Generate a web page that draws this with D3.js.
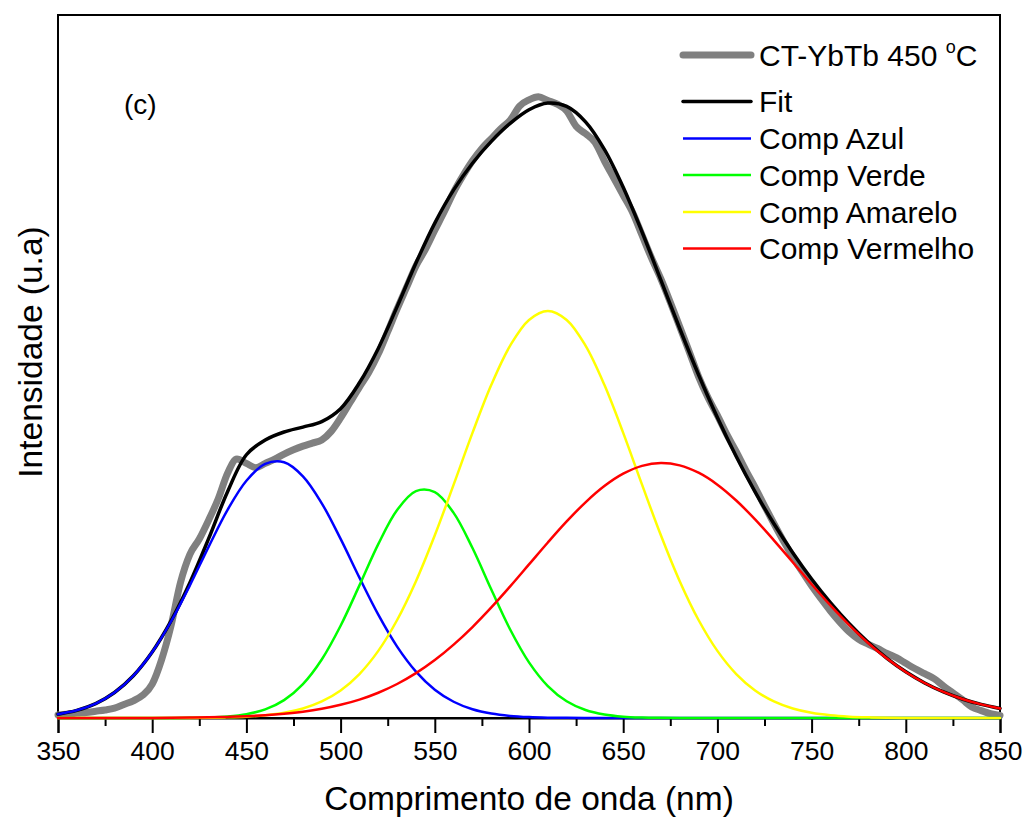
<!DOCTYPE html>
<html>
<head>
<meta charset="utf-8">
<script src="https://cdn.jsdelivr.net/npm/d3@7"></script>
<style>
  html, body { margin: 0; padding: 0; background: #fff; }
  svg { display: block; font-family: "Liberation Sans", Arial, sans-serif; }
</style>
</head>
<body>
<svg id="chart" width="1025" height="823"></svg>
<script>
// ---- Data (wavelength in nm, intensity in arbitrary units) ----
const xTicks = [350, 400, 450, 500, 550, 600, 650, 700, 750, 800, 850];

// measured spectrum, 350..850 nm step 5
const dataStart = 350, dataStep = 5;
const measured = [
  0.005,0.006,0.008,0.009,0.011,0.013,0.016,0.022,0.028,0.037,
  0.055,0.095,0.150,0.220,0.266,0.291,0.322,0.356,0.398,0.421,
  0.414,0.407,0.414,0.421,0.429,0.436,0.442,0.447,0.452,0.466,
  0.488,0.513,0.538,0.562,0.592,0.628,0.665,0.700,0.735,0.762,
  0.793,0.823,0.855,0.882,0.906,0.926,0.942,0.958,0.972,0.995,
  1.005,1.010,1.004,0.998,0.987,0.962,0.950,0.936,0.906,0.878,
  0.850,0.822,0.785,0.748,0.714,0.676,0.636,0.596,0.555,0.521,
  0.492,0.461,0.433,0.403,0.375,0.345,0.316,0.288,0.262,0.238,
  0.215,0.194,0.174,0.156,0.140,0.128,0.120,0.113,0.105,0.098,
  0.089,0.080,0.072,0.064,0.052,0.041,0.030,0.018,0.012,0.007,
  0.004
];

// fitted curves, 350..850 nm step 10
const fitStart = 350, fitStep = 10;
const fitTotal = [
  0.0062,0.0125,0.0234,0.0415,0.0688,0.1074,0.1580,0.2200,0.2920,0.3680,
  0.4280,0.4520,0.4650,0.4730,0.4820,0.5030,0.5450,0.6009,0.6688,0.7397,
  0.8047,0.8586,0.9020,0.9375,0.9667,0.9889,0.9998,0.9943,0.9692,0.9245,
  0.8630,0.7902,0.7120,0.6333,0.5581,0.4885,0.4251,0.3677,0.3158,0.2687,
  0.2259,0.1875,0.1532,0.1231,0.0971,0.0751,0.0570,0.0424,0.0309,0.0221,
  0.0155
];
const compAzul = [
  0.0062,0.0125,0.0234,0.0414,0.0687,0.1072,0.1569,0.2157,0.2787,0.3383,
  0.3857,0.4132,0.4158,0.3930,0.3491,0.2912,0.2282,0.1680,0.1161,0.0755,
  0.0461,0.0264,0.0142,0.0072,0.0034,0.0015,0.0006,0.0003,0.0001,0,
  0,0,0,0,0,0,0,0,0,0,
  0,0,0,0,0,0,0,0,0,0,
  0
];
const compVerde = [
  0,0,0,0,0,0,0.0001,0.0003,0.0009,0.0025,
  0.0062,0.0140,0.0291,0.0552,0.0952,0.1500,0.2156,0.2827,0.3381,0.3689,
  0.3673,0.3335,0.2763,0.2088,0.1439,0.0905,0.0520,0.0272,0.0130,0.0057,
  0.0022,0.0008,0.0003,0.0001,0,0,0,0,0,0,
  0,0,0,0,0,0,0,0,0,0,
  0
];
const compAmarelo = [
  0,0,0,0,0,0,0.0001,0.0002,0.0005,0.0011,
  0.0022,0.0044,0.0084,0.0154,0.0269,0.0448,0.0715,0.1091,0.1593,0.2224,
  0.2971,0.3794,0.4636,0.5417,0.6054,0.6472,0.6618,0.6472,0.6054,0.5417,
  0.4636,0.3794,0.2971,0.2224,0.1593,0.1091,0.0715,0.0448,0.0269,0.0154,
  0.0084,0.0044,0.0022,0.0011,0.0005,0.0002,0.0001,0,0,0,
  0
];
const compVermelho = [
  0,0,0,0.0001,0.0001,0.0002,0.0004,0.0007,0.0011,0.0018,
  0.0029,0.0045,0.0069,0.0102,0.0149,0.0214,0.0299,0.0411,0.0553,0.0729,
  0.0942,0.1193,0.1479,0.1798,0.2140,0.2497,0.2854,0.3196,0.3507,0.3771,
  0.3972,0.4100,0.4146,0.4108,0.3988,0.3794,0.3536,0.3229,0.2889,0.2533,
  0.2175,0.1831,0.1510,0.1220,0.0966,0.0749,0.0569,0.0424,0.0309,0.0221,
  0.0155
];

const seriesNames = ["CT-YbTb 450 ", "Fit", "Comp Azul", "Comp Verde", "Comp Amarelo", "Comp Vermelho"];
const seriesColors = ["#808080", "#000000", "#0000ff", "#00ff00", "#ffff00", "#ff0000"];
const seriesWidths = [7, 3.5, 2.5, 2.5, 2.5, 2.5];

// ---- Layout ----
const svg = d3.select("#chart");
const L = 58, T = 15, R = 1000, B = 718;

const x = d3.scaleLinear().domain([350, 850]).range([L, R]);
const y = d3.scaleLinear().domain([0, 1.143]).range([B, T]);

const toPts = (arr, start, step) => arr.map((v, i) => [start + i * step, v]);

// frame
svg.append("rect")
  .attr("x", L).attr("y", T).attr("width", R - L).attr("height", B - T)
  .attr("fill", "none").attr("stroke", "#000").attr("stroke-width", 2);

// x axis
const xAxis = d3.axisBottom(x).tickValues(xTicks).tickSize(15).tickPadding(8).tickFormat(d3.format("d"));
const gx = svg.append("g").attr("transform", `translate(0,${B})`).call(xAxis);
gx.select(".domain").attr("stroke-width", 2);
gx.selectAll(".tick line").attr("stroke-width", 2);
gx.selectAll(".tick text").attr("font-size", 26.5).attr("font-family", "'Liberation Sans', Arial, sans-serif").attr("fill", "#000");
const minor = d3.range(375, 850, 50);
svg.append("g").attr("transform", `translate(0,${B})`)
  .call(d3.axisBottom(x).tickValues(minor).tickSize(8).tickFormat(""))
  .call(g => { g.select(".domain").remove(); g.selectAll("line").attr("stroke-width", 2); });

// curves
const plot = svg.append("g");
const lineData = d3.line().x(d => x(d[0])).y(d => y(d[1])).curve(d3.curveMonotoneX);
const lineSmooth = d3.line().x(d => x(d[0])).y(d => y(d[1])).curve(d3.curveCatmullRom.alpha(0.5));

const allSeries = [
  toPts(measured, dataStart, dataStep),
  toPts(fitTotal, fitStart, fitStep),
  toPts(compAzul, fitStart, fitStep),
  toPts(compVerde, fitStart, fitStep),
  toPts(compAmarelo, fitStart, fitStep),
  toPts(compVermelho, fitStart, fitStep)
];
allSeries.forEach((pts, i) => {
  plot.append("path")
    .datum(pts)
    .attr("d", i === 0 ? lineData : lineSmooth)
    .attr("fill", "none")
    .attr("stroke", seriesColors[i])
    .attr("stroke-width", seriesWidths[i])
    .attr("stroke-linejoin", "round")
    .attr("stroke-linecap", "round");
});

// legend
const legY = [55, 101.5, 138.5, 175, 212, 248.5];
const leg = svg.append("g");
seriesNames.forEach((name, i) => {
  leg.append("line")
    .attr("x1", 683).attr("x2", 751).attr("y1", legY[i]).attr("y2", legY[i])
    .attr("stroke", seriesColors[i]).attr("stroke-width", seriesWidths[i])
    .attr("stroke-linecap", i < 2 ? "round" : "butt");
  const t = leg.append("text")
    .attr("x", 759).attr("y", legY[i] + 10.5)
    .attr("font-size", 30).attr("fill", "#000");
  t.append("tspan").text(name);
  if (i === 0) {
    t.append("tspan").attr("font-size", 18).attr("dy", -13).text("o");
    t.append("tspan").attr("dy", 13).text("C");
  }
});

// panel label
svg.append("text").attr("x", 124).attr("y", 114).attr("font-size", 28).attr("fill", "#000").text("(c)");

// axis titles
svg.append("text")
  .attr("x", 529).attr("y", 810)
  .attr("text-anchor", "middle").attr("font-size", 33.5).attr("fill", "#000")
  .text("Comprimento de onda (nm)");
svg.append("text")
  .attr("transform", `translate(42,${352}) rotate(-90)`)
  .attr("text-anchor", "middle").attr("font-size", 33.5).attr("fill", "#000")
  .text("Intensidade (u.a)");
</script>
</body>
</html>
